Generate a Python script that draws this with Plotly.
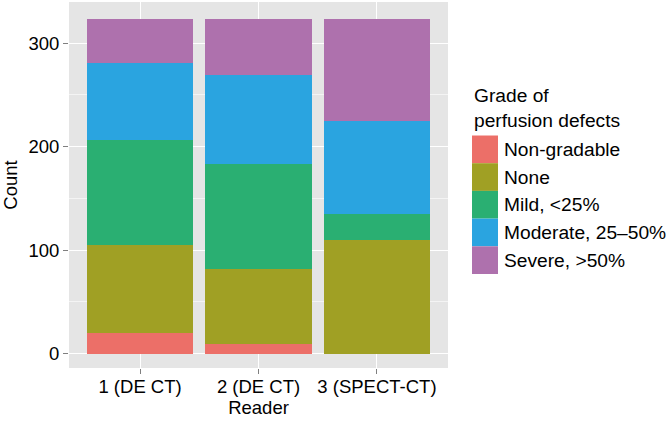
import plotly.graph_objects as go

readers = ["1 (DE CT)", "2 (DE CT)", "3 (SPECT-CT)"]
grades = ["Non-gradable", "None", "Mild, <25%", "Moderate, 25\u201350%", "Severe, >50%"]
non_gradable = [20, 9, 0]
none_vals = [85, 73, 110]
mild = [101, 101, 25]
moderate = [75, 86, 90]
severe = [42, 54, 98]
colors = ["#EC6F68", "#A0A024", "#2AAF72", "#2AA4E0", "#AE71AD"]
y_ticks = [0, 100, 200, 300]

series = [non_gradable, none_vals, mild, moderate, severe]

fig = go.Figure()
for name, vals, col in zip(grades, series, colors):
    fig.add_trace(go.Bar(x=readers, y=vals, name=name, marker=dict(color=col, line=dict(width=0)),
                         showlegend=False))

font = "Liberation Sans, Arial, Helvetica, sans-serif"
FS = 18.5
LFS = 19.2
L, R, T, B = 69, 218, 2, 53
fig.update_layout(
    width=666, height=421,
    margin=dict(l=L, r=R, t=T, b=B, autoexpand=False),
    barmode="stack", bargap=0.1,
    plot_bgcolor="#E5E5E5", paper_bgcolor="white",
    font=dict(family=font, size=FS, color="black"),
    xaxis=dict(range=[-0.6, 2.6], showgrid=True, gridcolor="white", gridwidth=1.2,
               ticks="outside", ticklen=5, tickcolor="#7F7F7F", tickwidth=1, automargin=False,
               ticklabelstandoff=-3,
               tickfont=dict(size=FS, color="black"), zeroline=False,
               title=dict(text="Reader", font=dict(size=FS), standoff=2)),
    yaxis=dict(range=[-14, 339.7], tickvals=y_ticks, showgrid=True, gridcolor="white", gridwidth=1.2,
               ticks="outside", ticklen=5, tickcolor="#7F7F7F", tickwidth=1, automargin=False,
               tickfont=dict(size=FS, color="black"), zeroline=False,
               minor=dict(tickvals=[50, 150, 250], showgrid=True, gridcolor="#F4F4F4", gridwidth=0.6),
               title=dict(text="Count", font=dict(size=FS), standoff=8)),
)

# custom legend (ggplot-style)
pw = 666 - L - R
ph = 421 - T - B
def px_to_paper(px, py):
    return (px - L) / pw, (421 - B - py) / ph

shapes = []
tx0, ty0 = px_to_paper(472, 108)
annots = [dict(text="Grade of<br>perfusion defects", x=tx0, y=ty0, xref="paper", yref="paper",
               showarrow=False, align="left", xanchor="left", yanchor="middle",
               font=dict(size=LFS, color="black"))]
for i, (name, col) in enumerate(zip(grades, colors)):
    top = 135.5 + i * 27.7
    x0, y0 = px_to_paper(472, top + 27.7)
    x1, y1 = px_to_paper(498, top)
    shapes.append(dict(type="rect", xref="paper", yref="paper", x0=x0, y0=y0, x1=x1, y1=y1,
                       fillcolor=col, line=dict(width=0)))
    tx, ty = px_to_paper(502, top + 13.8)
    annots.append(dict(text=name, x=tx, y=ty, xref="paper", yref="paper", showarrow=False,
                       xanchor="left", yanchor="middle", font=dict(size=LFS, color="black")))
fig.update_layout(shapes=shapes, annotations=annots)

fig.write_html("out.html", config={"displayModeBar": False},
               post_script="document.body.style.margin='0';")
